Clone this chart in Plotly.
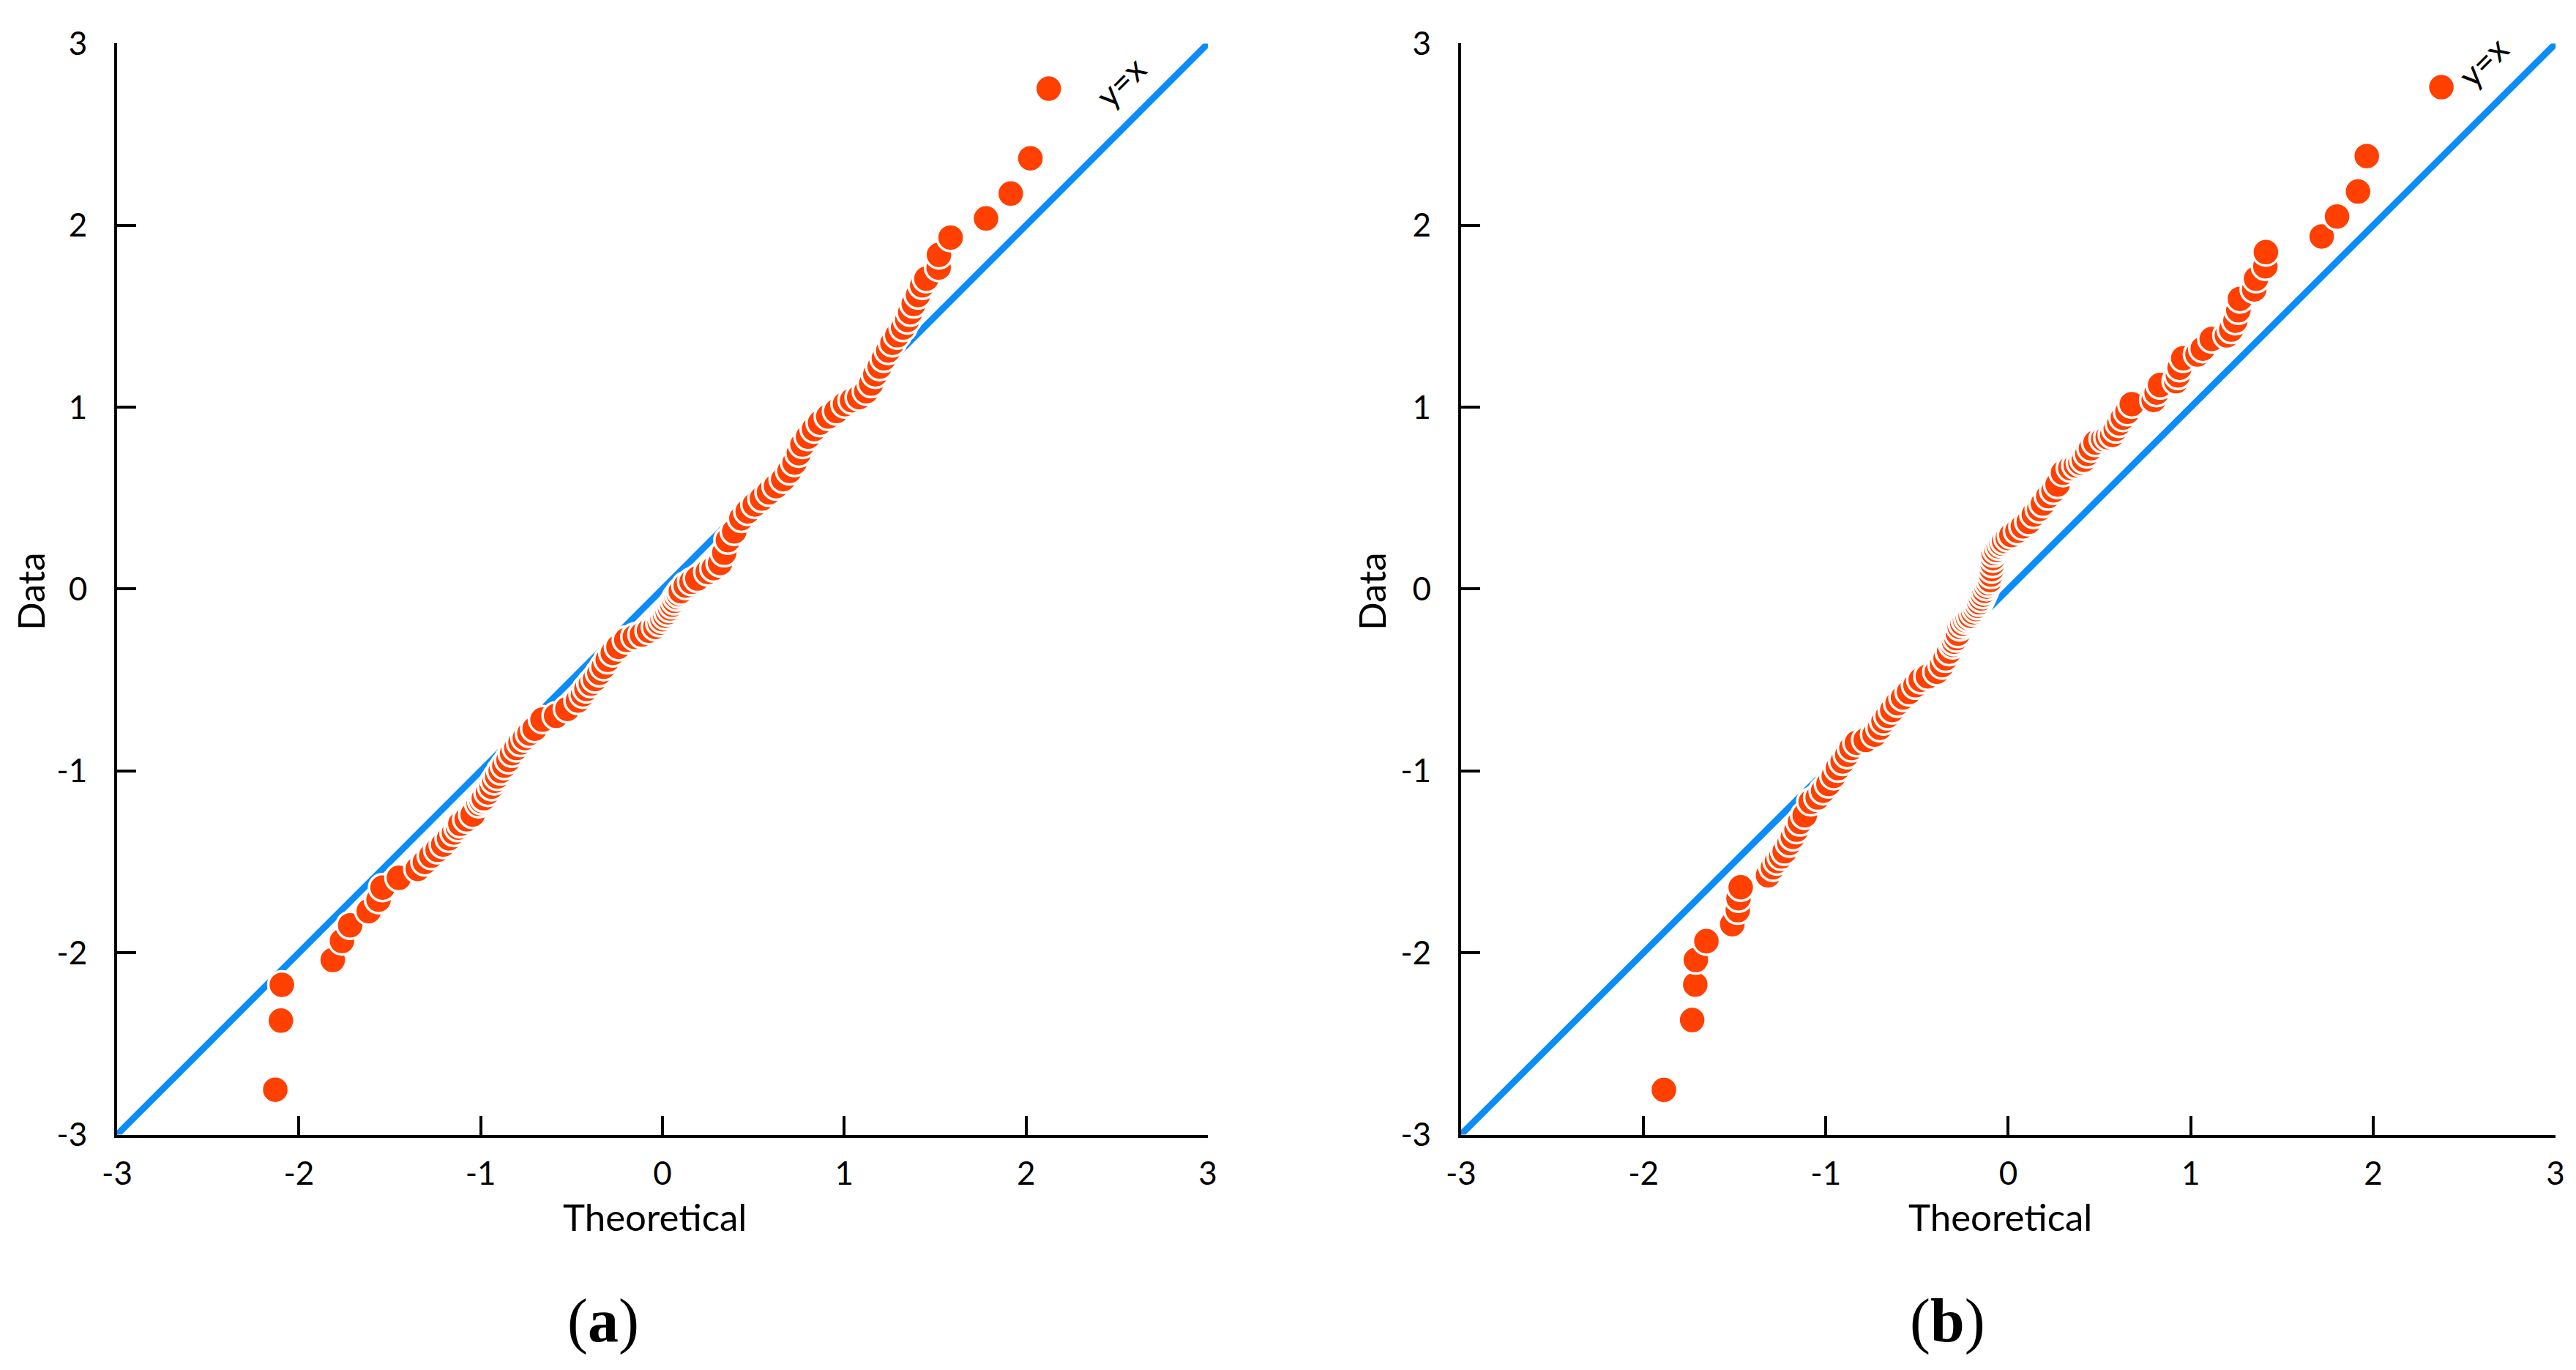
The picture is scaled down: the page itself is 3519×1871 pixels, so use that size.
import plotly.graph_objects as go

# Q-Q points (theoretical, data)
qq_a_x = [-2.130, -2.099, -2.094, -1.814, -1.763, -1.718, -1.616, -1.562, -1.540, -1.450,
          -1.346, -1.307, -1.272, -1.237, -1.206, -1.174, -1.147, -1.125, -1.112, -1.077,
          -1.044, -1.011, -0.995, -0.983, -0.960, -0.940, -0.925, -0.909, -0.890, -0.870,
          -0.847, -0.827, -0.804, -0.781, -0.757, -0.732, -0.703, -0.660, -0.585, -0.523,
          -0.465, -0.437, -0.418, -0.394, -0.371, -0.347, -0.324, -0.301, -0.273, -0.242,
          -0.199, -0.152, -0.113, -0.074, -0.039, -0.015, 0.000, 0.015, 0.029, 0.042,
          0.054, 0.066, 0.078, 0.090, 0.101, 0.128, 0.160, 0.192, 0.249, 0.282,
          0.317, 0.340, 0.360, 0.395, 0.434, 0.469, 0.508, 0.547, 0.586, 0.625,
          0.664, 0.699, 0.727, 0.750, 0.770, 0.801, 0.834, 0.867, 0.912, 0.957,
          1.004, 1.043, 1.082, 1.121, 1.148, 1.171, 1.195, 1.218, 1.242, 1.265,
          1.292, 1.324, 1.347, 1.363, 1.382, 1.406, 1.429, 1.452, 1.519, 1.521,
          1.585, 1.780, 1.916, 2.024, 2.125]
qq_a_y = [-2.753, -2.373, -2.176, -2.040, -1.935, -1.849, -1.771, -1.708, -1.642, -1.588,
          -1.539, -1.501, -1.466, -1.434, -1.405, -1.371, -1.339, -1.312, -1.291, -1.266,
          -1.240, -1.181, -1.165, -1.150, -1.118, -1.087, -1.055, -1.030, -1.000, -0.971,
          -0.939, -0.903, -0.874, -0.844, -0.819, -0.794, -0.768, -0.718, -0.697, -0.659,
          -0.613, -0.579, -0.549, -0.520, -0.495, -0.461, -0.427, -0.389, -0.351, -0.318,
          -0.280, -0.263, -0.250, -0.229, -0.208, -0.185, -0.166, -0.147, -0.128, -0.107,
          -0.086, -0.065, -0.044, -0.028, -0.012, 0.019, 0.040, 0.058, 0.094, 0.115,
          0.143, 0.200, 0.269, 0.317, 0.389, 0.427, 0.465, 0.498, 0.532, 0.566,
          0.604, 0.650, 0.696, 0.747, 0.795, 0.838, 0.880, 0.915, 0.949, 0.979,
          1.017, 1.038, 1.055, 1.088, 1.130, 1.181, 1.223, 1.269, 1.312, 1.354,
          1.396, 1.438, 1.480, 1.522, 1.568, 1.617, 1.670, 1.707, 1.768, 1.838,
          1.933, 2.038, 2.175, 2.369, 2.752]

qq_b_x = [-1.888, -1.733, -1.716, -1.713, -1.655, -1.513, -1.483, -1.479, -1.467, -1.317,
          -1.290, -1.268, -1.245, -1.226, -1.200, -1.181, -1.161, -1.142, -1.116, -1.083,
          -1.045, -1.015, -0.986, -0.957, -0.934, -0.908, -0.883, -0.860, -0.830, -0.782,
          -0.733, -0.704, -0.684, -0.661, -0.636, -0.607, -0.577, -0.544, -0.509, -0.480,
          -0.441, -0.392, -0.363, -0.344, -0.324, -0.305, -0.297, -0.285, -0.276, -0.266,
          -0.252, -0.237, -0.222, -0.207, -0.192, -0.178, -0.168, -0.159, -0.149, -0.139,
          -0.130, -0.120, -0.110, -0.100, -0.095, -0.091, -0.087, -0.084, -0.081, -0.066,
          -0.052, -0.037, -0.023, -0.003, 0.017, 0.050, 0.080, 0.112, 0.140, 0.170,
          0.190, 0.219, 0.248, 0.270, 0.300, 0.340, 0.370, 0.395, 0.414, 0.433,
          0.453, 0.478, 0.520, 0.545, 0.570, 0.589, 0.608, 0.628, 0.653, 0.677,
          0.797, 0.813, 0.832, 0.920, 0.930, 0.939, 0.959, 1.037, 1.066, 1.115,
          1.198, 1.222, 1.245, 1.261, 1.270, 1.348, 1.358, 1.409, 1.412, 1.718,
          1.802, 1.917, 1.965, 2.374]
qq_b_y = [-2.754, -2.370, -2.175, -2.040, -1.936, -1.843, -1.766, -1.700, -1.640, -1.574,
          -1.530, -1.496, -1.470, -1.442, -1.397, -1.363, -1.323, -1.281, -1.244, -1.170,
          -1.146, -1.109, -1.072, -1.027, -0.985, -0.948, -0.911, -0.874, -0.845, -0.830,
          -0.800, -0.763, -0.726, -0.697, -0.665, -0.628, -0.596, -0.566, -0.529, -0.499,
          -0.480, -0.455, -0.418, -0.381, -0.344, -0.307, -0.290, -0.270, -0.245, -0.208,
          -0.190, -0.171, -0.159, -0.147, -0.128, -0.110, -0.092, -0.073, -0.052, -0.031,
          -0.010, 0.013, 0.032, 0.050, 0.080, 0.110, 0.140, 0.170, 0.198, 0.216,
          0.235, 0.250, 0.265, 0.281, 0.297, 0.320, 0.345, 0.370, 0.410, 0.440,
          0.470, 0.511, 0.543, 0.575, 0.640, 0.665, 0.680, 0.695, 0.711, 0.743,
          0.774, 0.806, 0.825, 0.835, 0.848, 0.880, 0.911, 0.943, 0.975, 1.017,
          1.040, 1.080, 1.122, 1.143, 1.175, 1.217, 1.269, 1.290, 1.322, 1.375,
          1.395, 1.427, 1.476, 1.533, 1.596, 1.648, 1.707, 1.775, 1.853, 1.939,
          2.049, 2.186, 2.381, 2.760]

# reference line y = x
ref_x = [-3, 3]
ref_y = [-3, 3]

tick_vals = [-3, -2, -1, 0, 1, 2, 3]
tick_text = ["-3", "-2", "-1", "0", "1", "2", "3"]

MARKER_COLOR = "#FF4000"
LINE_COLOR = "#0A8CFA"
FONT = "Lato"

fig = go.Figure()

panels = [
    ("x", "y", qq_a_x, qq_a_y),
    ("x2", "y2", qq_b_x, qq_b_y),
]
for xa, ya, px, py in panels:
    fig.add_trace(go.Scatter(x=ref_x, y=ref_y, mode="lines", xaxis=xa, yaxis=ya,
                             line=dict(color=LINE_COLOR, width=9), hoverinfo="skip"))
    fig.add_trace(go.Scatter(x=px, y=py, mode="markers", xaxis=xa, yaxis=ya,
                             marker=dict(color=MARKER_COLOR, size=37,
                                         line=dict(color="white", width=3.5))))

axis_style = dict(
    range=[-3, 3], tickvals=tick_vals, ticktext=tick_text,
    showline=True, linecolor="black", linewidth=4, mirror=False,
    ticks="inside", ticklen=26, tickwidth=3.5, tickcolor="black",
    showgrid=False, zeroline=False, automargin=False,
    tickfont=dict(family=FONT, size=44, color="black"),
)
x_style = dict(axis_style, ticklabelstandoff=12)
y_style = dict(axis_style, ticklabelstandoff=28)

y_dom = [0.1761, 0.9725]
fig.update_layout(
    width=3519, height=1871,
    margin=dict(l=0, r=0, t=0, b=0),
    paper_bgcolor="white", plot_bgcolor="white",
    showlegend=False,
    xaxis=dict(domain=[0.0432, 0.4666], anchor="y", **x_style),
    yaxis=dict(domain=y_dom, anchor="x", **y_style),
    xaxis2=dict(domain=[0.5649, 0.9898], anchor="y2", **x_style),
    yaxis2=dict(domain=y_dom, anchor="x2", **y_style),
)

title_font = dict(family=FONT, size=51, color="black")
caption_font = dict(family="Liberation Serif", size=84, color="black")
yx_font = dict(family=FONT, size=46, color="black")
centre = dict(showarrow=False, xanchor="center", yanchor="middle")
annotations = [
    dict(text="Theoretical", x=0.2518, y=0.1160, xref="paper", yref="paper",
         font=title_font, **centre),
    dict(text="Theoretical", x=0.7741, y=0.1160, xref="paper", yref="paper",
         font=title_font, **centre),
    dict(text="Data", x=0.0094, y=0.5724, xref="paper", yref="paper",
         textangle=-90, font=title_font, **centre),
    dict(text="Data", x=0.5300, y=0.5724, xref="paper", yref="paper",
         textangle=-90, font=title_font, **centre),
    dict(text="(<b>a</b>)", x=0.2319, y=0.0401, xref="paper", yref="paper",
         font=caption_font, **centre),
    dict(text="(<b>b</b>)", x=0.7538, y=0.0401, xref="paper", yref="paper",
         font=caption_font, **centre),
    dict(text="y=x", x=2.52, y=2.79, xref="x", yref="y",
         textangle=-45, font=yx_font, **centre),
    dict(text="y=x", x=2.60, y=2.90, xref="x2", yref="y2",
         textangle=-45, font=yx_font, **centre),
]
fig.update_layout(annotations=annotations)

fig.write_html("out.html")
